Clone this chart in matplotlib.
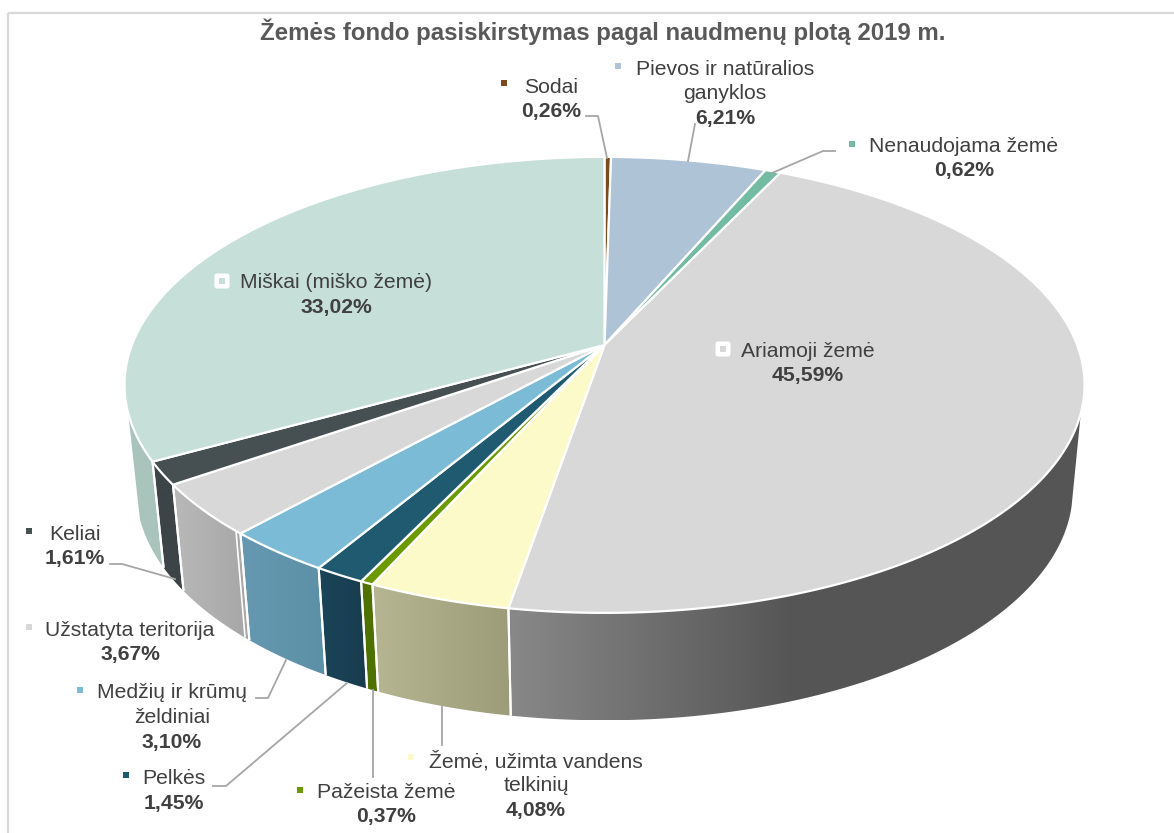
import numpy as np
import matplotlib
matplotlib.use("Agg")
import matplotlib.pyplot as plt
from matplotlib.patches import Polygon, FancyBboxPatch, Rectangle
from matplotlib.colors import to_rgb

plt.rcParams['font.family'] = ['Liberation Sans', 'DejaVu Sans']

# ---- data ----
categories = ["Sodai", "Pievos ir natūralios\nganyklos", "Nenaudojama žemė", "Ariamoji žemė",
              "Žemė, užimta vandens\ntelkinių", "Pažeista žemė", "Pelkės",
              "Medžių ir krūmų\nželdiniai", "Užstatyta teritorija", "Keliai", "Miškai (miško žemė)"]
values = [0.26, 6.21, 0.62, 45.59, 4.08, 0.37, 1.45, 3.10, 3.67, 1.61, 33.02]
top_colors = ["#7B4A1E", "#AFC3D6", "#73BBA3", "#D8D8D8", "#FCFAC9", "#6A9A00", "#1F5A70",
              "#7CBBD6", "#D8D8D8", "#464F52", "#C6E0D9"]
side_left = ["#6A4018", "#97A8B8", "#5F9C88", "#888888", "#B7B692", "#4E7200", "#1A4458",
             "#6699B1", "#B9B9B9", "#3C4447", "#A9C4BC"]
side_right = ["#6A4018", "#97A8B8", "#5F9C88", "#555555", "#9D9C79", "#4E7200", "#183C4E",
              "#5C90A7", "#A6A6A6", "#3C4447", "#A9C4BC"]
side_fade = [1, 1, 1, 0.5, 1, 1, 1, 1, 1, 1, 1]

# label layout: centre x, y of first line, marker position
label_x = [551, 725, 964, 808, 536, 386, 174, 172, 130, 75, 336]
label_y = [87, 69, 146, 351, 761, 792, 779, 693, 630, 534, 283]
marker_xy = [(504, 83), (618, 66), (852, 144), (723, 349), (411, 757), (300, 790), (126, 775),
             (80, 690), (29, 627), (29, 531), (222, 281)]
leaders = [[(586, 116), (598, 116), (607, 158)],
           [(695, 124), (688, 161)],
           [(835, 151), (823, 151), (772, 173)],
           None,
           [(442, 745), (442, 706)],
           [(373, 777), (373, 690)],
           [(213, 786), (226, 786), (347, 683)],
           [(256, 698), (268, 698), (286, 660)],
           None,
           [(110, 564), (122, 564), (175, 579)],
           None]
boxed = {3, 10}
title = "Žemės fondo pasiskirstymas pagal naudmenų plotą 2019 m."

# ---- perspective pie projection ----
CX = 604.5
K = 0.175
TOP = dict(cy=345, A=221, B=472.6)
BOT = dict(cy=450, A=223, B=461)


def project(frac, plane):
    a = 2 * np.pi * np.asarray(frac)
    X, Y = np.sin(a), np.cos(a)
    d = 1 + K * Y
    return CX + plane['B'] * X / d, plane['cy'] - plane['A'] * Y / d


def arc(f0, f1, plane):
    f = np.linspace(f0, f1, max(int((f1 - f0) * 1500), 2) + 1)
    return np.column_stack(project(f, plane))


fig = plt.figure(figsize=(11.74, 8.33), dpi=100)
ax = fig.add_axes([0, 0, 1, 1])
ax.set_axis_off()

# chart frame
ax.add_patch(Rectangle((8, 13), 1400, 1000, fill=False, ec="#D9D9D9", lw=1.6, zorder=0))

cum = np.concatenate([[0], np.cumsum(values)]) / sum(values)

# visible side range (fractions clockwise from top)
VIS0, VIS1 = 107 / 360, 253 / 360
VIS0_BOT = 104 / 360
SLIVER = 0.002
for i in range(len(values)):
    f0, f1 = max(cum[i], VIS0), min(cum[i + 1], VIS1)
    if f1 <= f0:
        continue
    fb = VIS0_BOT if f0 == VIS0 else f0
    poly = np.vstack([arc(f0, f1, TOP), arc(fb, f1, BOT)[::-1]])
    x0, x1 = poly[:, 0].min(), poly[:, 0].max()
    y0, y1 = poly[:, 1].min(), poly[:, 1].max()
    c0, c1 = np.array(to_rgb(side_left[i])), np.array(to_rgb(side_right[i]))
    t = np.clip(np.linspace(0, 1, 256) / side_fade[i], 0, 1)[None, :, None]
    grad = c0[None, None, :] * (1 - t) + c1[None, None, :] * t
    im = ax.imshow(grad, extent=[x0, x1, y1, y0], aspect='auto', interpolation='bilinear', zorder=1)
    clip = Polygon(poly, closed=True, transform=ax.transData)
    im.set_clip_path(clip)
    for f in (f0, f1):
        if VIS0 < f < VIS1:
            xa, ya = project(f, TOP)
            xb, yb = project(f, BOT)
            ax.plot([xa, xb], [ya, yb], color="white", lw=1.5, zorder=2, solid_capstyle='butt')

# thin sliver visible where the built-up area's side meets the tree area's side
xa, ya = project(cum[8] + SLIVER, TOP)
xb, yb = project(cum[8] + SLIVER, BOT)
ax.plot([xa, xb], [ya, yb], color="white", lw=1.2, zorder=2, solid_capstyle='butt')

# top faces
for i in range(len(values)):
    pts = np.vstack([[CX, TOP['cy']], arc(cum[i], cum[i + 1], TOP)])
    ax.add_patch(Polygon(pts, closed=True, fc=top_colors[i], ec="white", lw=1.6, zorder=3,
                         joinstyle='round'))

# leader lines
for path in leaders:
    if path:
        xs, ys = zip(*path)
        ax.plot(xs, ys, color="#A6A6A6", lw=1.3, zorder=4)

# labels
TC = "#404040"
FS = 15.2
LH = 24.8
for i, name in enumerate(categories):
    lines = name.split("\n")
    for j, ln in enumerate(lines):
        ax.text(label_x[i], label_y[i] + j * LH, ln, ha='center', va='center', color=TC,
                fontsize=FS, zorder=5)
    pct = f"{values[i]:.2f}".replace(".", ",") + "%"
    ax.text(label_x[i], label_y[i] + len(lines) * LH, pct, ha='center', va='center', color=TC,
            fontsize=FS, fontweight='bold', zorder=5)
    mx, my = marker_xy[i]
    if i in boxed:
        ax.add_patch(FancyBboxPatch((mx - 5.5, my - 5.5), 11, 11, boxstyle="round,pad=2,rounding_size=2.5",
                                    fc="white", ec="none", zorder=5))
    ax.add_patch(Rectangle((mx - 3, my - 3), 6, 6, fc=top_colors[i], ec="none", zorder=6))

ax.text(603, 32, title, ha='center', va='center', color="#595959", fontsize=17.3,
        fontweight='bold', zorder=5)

ax.set_xlim(0, 1174)
ax.set_ylim(833, 0)
fig.savefig("out.png", dpi=100, facecolor="white")
